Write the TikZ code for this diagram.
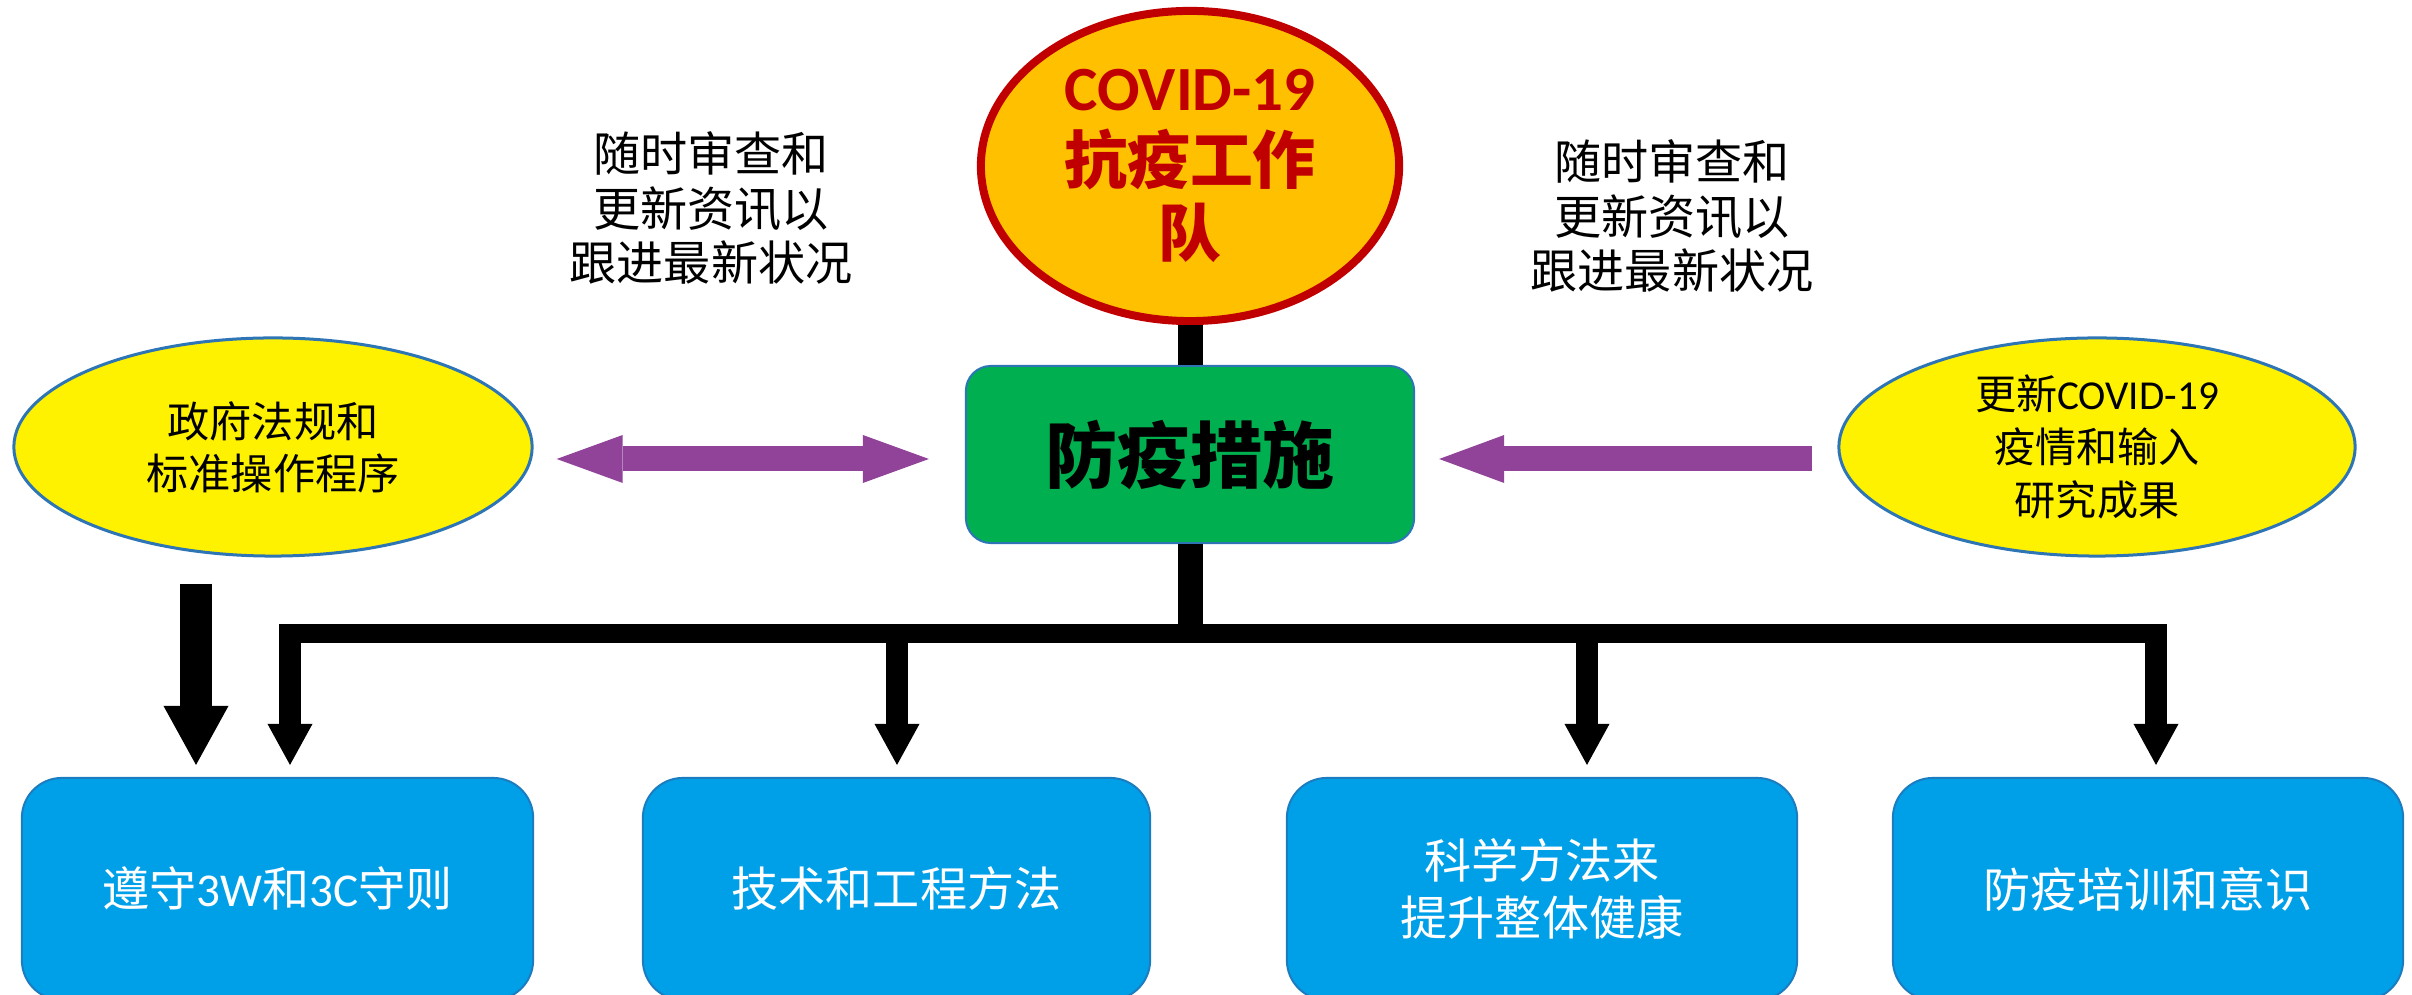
\documentclass[tikz,border=0pt]{standalone}
\usepackage{fontspec}
\setmainfont{Noto Sans CJK SC}
\newfontfamily\lat{Carlito}
\usetikzlibrary{shapes.geometric,arrows.meta}
\definecolor{cvfill}{HTML}{FFC000}
\definecolor{cvred}{HTML}{C00000}
\definecolor{mgreen}{HTML}{00B050}
\definecolor{eborder}{HTML}{2E75B6}
\definecolor{boxblue}{HTML}{00A0E9}
\definecolor{boxedge}{HTML}{1C7CC0}
\definecolor{purp}{RGB}{145,67,153}
\begin{document}
\begin{tikzpicture}[x=0.01cm,y=-0.01cm,
  every node/.style={inner sep=0pt, align=center},
  covid/.style={ellipse, draw=cvred, fill=cvfill, line width=0.8mm, minimum width=41.8mm, minimum height=31mm},
  srcell/.style={ellipse, draw=eborder, fill=yellow, line width=0.3mm},
  measbox/.style={rectangle, rounded corners=2.5mm, draw=eborder, fill=mgreen, line width=0.2mm, minimum width=44.8mm, minimum height=17.7mm},
  actbox/.style={rectangle, rounded corners=4mm, draw=boxedge, fill=boxblue, line width=0.2mm, text=white, font=\fontsize{13.4pt}{16.2pt}\selectfont, minimum height=22.2mm},
  note/.style={font=\fontsize{13.4pt}{15.6pt}\selectfont},
  stem/.style={line width=2.5mm},
  busline/.style={line width=1.9mm},
  dropline/.style={line width=2.2mm, -{Triangle[length=4.1mm,width=4.5mm,line width=0pt]}, shorten >=1.2mm},
  bigdrop/.style={line width=3.2mm, -{Triangle[length=5.9mm,width=6.5mm,line width=0pt]}},
  purparrow/.style={draw=purp, line width=2.5mm}
]
\useasboundingbox (0,0) rectangle (2412,995);

% nodes
\node[covid, text=cvred, font=\fontsize{17.9pt}{20.8pt}\selectfont\bfseries] (covid) at (1190,166) {{\lat COVID-19}\\抗疫工作\\队};
\node[measbox, font=\fontsize{20.5pt}{24pt}\selectfont\bfseries] (meas) at (1190,454.5) {防疫措施};
\node[srcell, minimum width=51.8mm, minimum height=21.8mm, font=\fontsize{12pt}{14.8pt}\selectfont] (gov) at (273,447) {政府法规和\\标准操作程序};
\node[srcell, minimum width=51.6mm, minimum height=21.8mm, font=\fontsize{11.7pt}{15pt}\selectfont] (upd) at (2097,447) {更新{\lat COVID-19}\\疫情和输入\\研究成果};
\node[note] (noteL) at (711,208) {随时审查和\\更新资讯以\\跟进最新状况};
\node[note] (noteR) at (1672,216) {随时审查和\\更新资讯以\\跟进最新状况};

\node[actbox, minimum width=51.1mm] (b1) at (277.5,889) {遵守{\lat 3W}和{\lat 3C}守则};
\node[actbox, minimum width=50.7mm] (b2) at (896.5,889) {技术和工程方法};
\node[actbox, minimum width=51mm] (b3) at (1542,889) {科学方法来\\提升整体健康};
\node[actbox, minimum width=51mm] (b4) at (2148,889) {防疫培训和意识};

% connectors
\draw[stem] (covid.south) -- (meas.north);
\coordinate (busy) at (0,633.5);
\draw[stem] (meas.south) -- (meas.south |- busy);
\coordinate (busL) at (279,633.5);
\coordinate (busR) at (2167,633.5);
\draw[busline] (busL) -- (busR);
\coordinate (j1) at (290,633.5);
\coordinate (j2) at (897,633.5);
\coordinate (j3) at (1587,633.5);
\coordinate (j4) at (2156,633.5);
\draw[dropline] (j1) -- (j1 |- b1.north);
\draw[dropline] (j2) -- (j2 |- b2.north);
\draw[dropline] (j3) -- (j3 |- b3.north);
\draw[dropline] (j4) -- (j4 |- b4.north);

\coordinate (bx) at (196,0);
\draw[bigdrop, shorten <=2.6mm, shorten >=1.2mm] (bx |- gov.south) -- (bx |- b1.north);

\coordinate (py) at (0,459);
\draw[purparrow, {Triangle[length=6.6mm,width=4.8mm,line width=0pt]}-{Triangle[length=6.6mm,width=4.8mm,line width=0pt]}, shorten <=2.3mm, shorten >=3.6mm] (gov.east |- py) -- (meas.west |- py);
\draw[purparrow, -{Triangle[length=6.5mm,width=4.8mm,line width=0pt]}, shorten <=2.5mm, shorten >=2.4mm] (upd.west |- py) -- (meas.east |- py);
\end{tikzpicture}
\end{document}
